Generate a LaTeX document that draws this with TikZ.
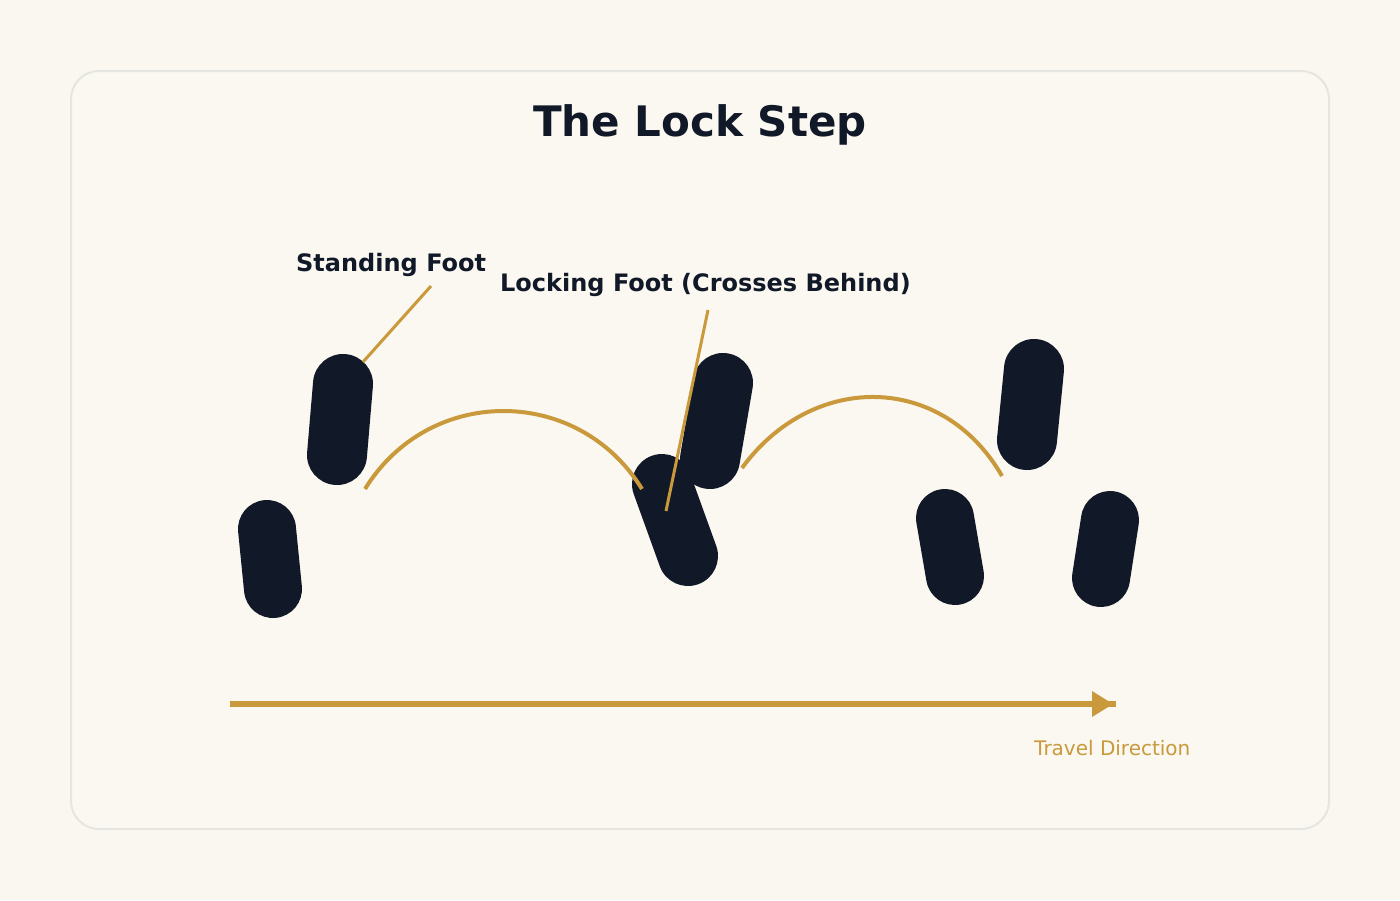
\documentclass[tikz,border=0pt]{standalone}
\usepackage{fontspec}
\setmainfont{DejaVu Sans}
\definecolor{bg}{HTML}{F9F7EF}
\definecolor{card}{HTML}{FAF8F1}
\definecolor{cardline}{HTML}{E5E5E2}
\definecolor{ink}{HTML}{111827}
\definecolor{gold}{HTML}{C9993B}
\begin{document}
\begin{tikzpicture}[x=1pt,y=-1pt,
  foot/.style={draw=ink,line width=60pt,line cap=round},
  footsm/.style={draw=ink,line width=58pt,line cap=round},
  arcline/.style={draw=gold,line width=4pt},
  leader/.style={draw=gold,line width=3pt},
  lbl/.style={text=ink,font=\fontsize{24}{28}\selectfont\bfseries,inner sep=0pt,anchor=base west}]
\fill[bg] (0,0) rectangle (1400,900);
\useasboundingbox (0,0) rectangle (1400,900);
\draw[fill=card,draw=cardline,line width=2pt,rounded corners=28pt] (71,71) rectangle (1329,829);
\node[text=ink,font=\fontsize{42}{50}\selectfont\bfseries,inner sep=0pt,anchor=base] (title) at (700,136) {The Lock Step};
% feet
\coordinate (f1a) at (267,529); \coordinate (f1b) at (273,589);
\coordinate (f2a) at (343,384); \coordinate (f2b) at (337,455);
\coordinate (f3a) at (662,484); \coordinate (f3b) at (688,556);
\coordinate (f4a) at (723,383); \coordinate (f4b) at (710,459);
\coordinate (f5a) at (1034,369); \coordinate (f5b) at (1027,440);
\coordinate (f6a) at (945,518); \coordinate (f6b) at (955,576);
\coordinate (f7a) at (1110,520); \coordinate (f7b) at (1101,578);
\draw[footsm] (f1a) -- (f1b);
\draw[foot] (f2a) -- (f2b);
\draw[foot] (f3a) -- (f3b);
\draw[foot] (f4a) -- (f4b);
\draw[foot] (f5a) -- (f5b);
\draw[footsm] (f6a) -- (f6b);
\draw[footsm] (f7a) -- (f7b);
% arcs
\coordinate (a1s) at (365,489); \coordinate (a1e) at (642,489);
\coordinate (a2s) at (742,468); \coordinate (a2e) at (1002,476);
\draw[arcline] (a1s) .. controls (429,385) and (578,385) .. (a1e);
\draw[arcline] (a2s) .. controls (812,372) and (942,372) .. (a2e);
% labels
\node[lbl] (stand) at (296,271) {Standing Foot};
\node[lbl] (lock) at (500,291) {Locking Foot (Crosses Behind)};
\coordinate (l1s) at (431,286); \coordinate (l1e) at (363,362);
\coordinate (l2s) at (708,310); \coordinate (l2e) at (666,511);
\draw[leader] (l1s) -- (l1e);
\draw[leader] (l2s) -- (l2e);
% travel arrow
\coordinate (ts) at (230,704); \coordinate (te) at (1116,704);
\draw[gold,line width=6.5pt] (ts) -- (te);
\fill[gold] (1092,691) -- (1113,704) -- (1092,717) -- cycle;
\node[text=gold,font=\fontsize{20}{24}\selectfont,inner sep=0pt,anchor=base west] (travel) at (1034,755) {Travel Direction};
\end{tikzpicture}
\end{document}
